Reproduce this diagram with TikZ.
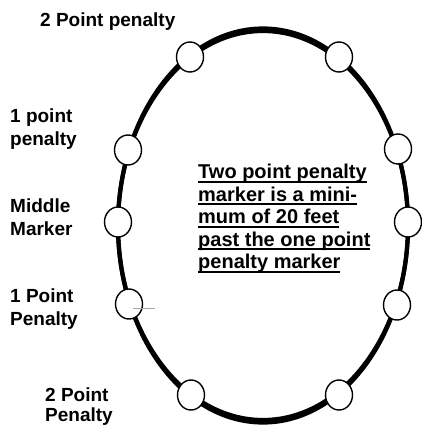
\documentclass[tikz,border=0pt]{standalone}
\usepackage{fontspec}
\setmainfont{Liberation Sans}
\usetikzlibrary{shapes.geometric}

\newcommand{\undr}[1]{\setbox0\hbox{#1}\rlap{\vrule width\wd0 height -2pt depth 4pt}\box0}

\begin{document}
\begin{tikzpicture}[x=1pt, y=-1pt,
        post/.style={ellipse, draw, fill=white, line width=1.4pt, inner sep=0pt,
            minimum width=27pt, minimum height=30pt},
        lbl/.style={font=\fontsize{19}{23}\selectfont\bfseries, align=left,
            anchor=north west, inner sep=0pt}]

        \useasboundingbox (0,0) rectangle (422,426);

        % track, heavier at both ends
        \draw[line width=4.2pt] (263,225.5) ellipse[x radius=145, y radius=197];
        \draw[line width=4.2pt] (263,225.5) ellipse[x radius=145, y radius=194.5];

        % markers
        \node[post] (topL) at (190,57) {};
        \node[post] (topR) at (339,57) {};
        \node[post] (oneL) at (128,150) {};
        \node[post] (oneR) at (398,149) {};
        \node[post] (midL) at (118,222) {};
        \node[post] (midR) at (408,222) {};
        \node[post] (oneLb) at (129,304) {};
        \node[post] (oneRb) at (397,305) {};
        \node[post] (botL) at (191,395) {};
        \node[post] (botR) at (339,395) {};

        \draw[gray!70, line width=1pt] (133,308) -- (155,308);

        % labels
        \node[lbl] (twoTop) at (40,13) {2 Point penalty};
        \node[lbl] (oneTop) at (10,109) {1 point\\penalty};
        \node[lbl] (middle) at (10,199) {Middle\\Marker};
        \node[lbl] (oneBot) at (10,289) {1 Point\\Penalty};
        \node[lbl, font=\fontsize{19}{20}\selectfont\bfseries] (twoBot) at (45,387.5) {2 Point\\Penalty};

        \node[lbl, font=\fontsize{20}{22.5}\selectfont\bfseries] (note) at (198,164)
            {\undr{Two point penalty}\\\undr{marker is a mini-}\\\undr{mum of 20 feet}\\
             \undr{past the one point}\\\undr{penalty marker}};

    \end{tikzpicture}
\end{document}
